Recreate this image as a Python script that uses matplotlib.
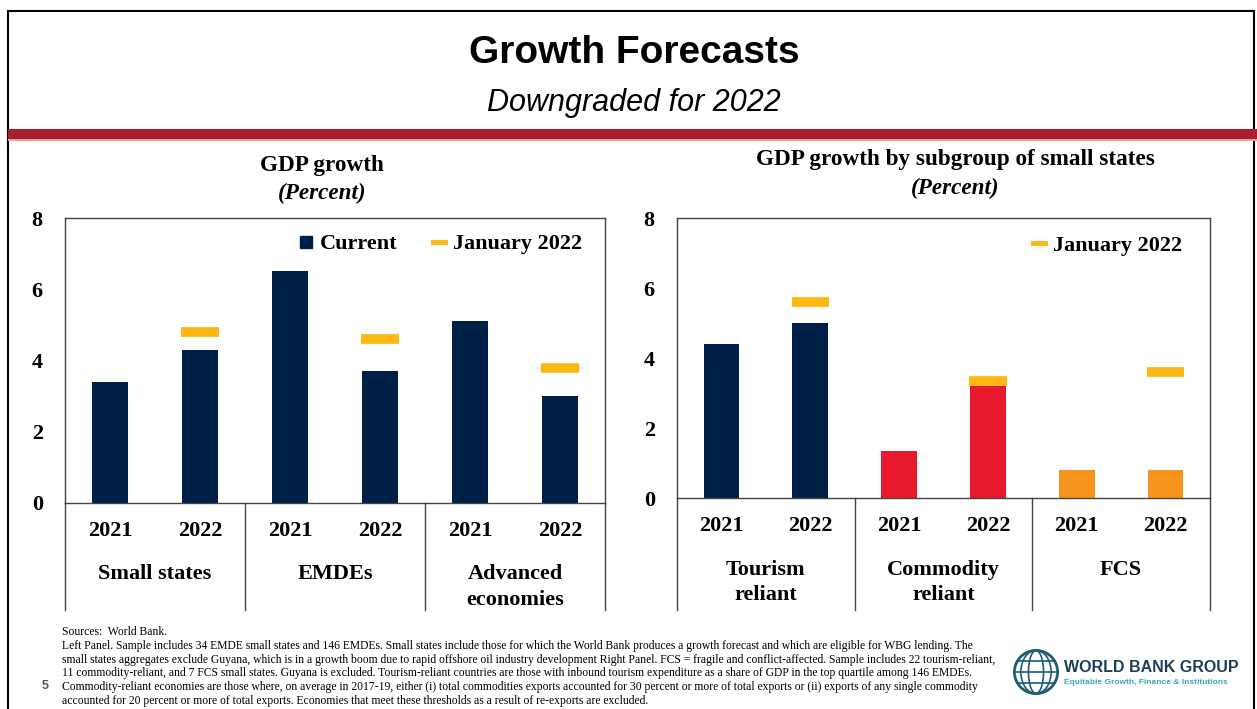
import matplotlib.pyplot as plt
from matplotlib.lines import Line2D
from matplotlib.patches import Rectangle, Circle, Ellipse
import numpy as np

# ---- data ----
left_cats = ['Small states', 'EMDEs', 'Advanced\neconomies']
left_current = [3.4, 4.3, 6.5, 3.7, 5.1, 3.0]
left_jan = [None, 4.8, None, 4.6, None, 3.8]

right_cats = ['Tourism\nreliant', 'Commodity\nreliant', 'FCS']
right_current = [4.4, 5.0, 1.35, 3.2, 0.8, 0.8]
right_jan = [None, 5.6, None, 3.35, None, 3.6]

years = ['2021', '2022'] * 3

navy = '#002147'
red = '#E8192C'
orange = '#F7941D'
yellow = '#FDB813'
right_colors = [navy, navy, red, red, orange, orange]

W, H = 1257, 709
fig = plt.figure(figsize=(W / 100, H / 100), dpi=100)
serif = 'Liberation Serif'
sans = 'Liberation Sans'


def px(x0, y0, x1, y1):
    return [x0 / W, 1 - y1 / H, (x1 - x0) / W, (y1 - y0) / H]


# slide frame and header
fig.add_artist(Rectangle((8 / W, -0.01), 1 - 11 / W, 1 - 4 / H, transform=fig.transFigure,
                         fill=False, edgecolor='black', lw=1.5))
fig.add_artist(Rectangle((8 / W, 1 - 139 / H), 1, 10 / H, transform=fig.transFigure,
                         color='#A91F2F', lw=0))
fig.add_artist(Rectangle((8 / W, 1 - 141 / H), 1, 2 / H, transform=fig.transFigure,
                         color='#E3A3AA', lw=0))
fig.text(634 / W, 1 - 53 / H, 'Growth Forecasts', ha='center', va='center',
         fontsize=28, fontweight='bold', family=sans)
fig.text(634 / W, 1 - 103 / H, 'Downgraded for 2022', ha='center', va='center',
         fontsize=22, style='italic', family=sans)


def panel(rect, title, title_x, title_y, cats, vals, jan, colors, legend_current,
          ext, cat_y, anchor):
    ax = fig.add_axes(rect)
    x = np.arange(6)
    ax.bar(x, vals, width=0.4, color=colors, zorder=2)
    for i, v in enumerate(jan):
        if v is not None:
            ax.plot([i - 0.21, i + 0.21], [v, v], color=yellow, lw=7,
                    solid_capstyle='butt', zorder=3)
    ax.set_xlim(-0.5, 5.5)
    ax.set_ylim(0, 8)
    ax.set_yticks([0, 2, 4, 6, 8])
    ax.set_xticks([])
    ax.tick_params(axis='y', length=0, pad=16)
    for lab in ax.get_yticklabels():
        lab.set_fontfamily(serif)
        lab.set_fontweight('bold')
        lab.set_fontsize(16)
    for s in ax.spines.values():
        s.set_linewidth(1)
        s.set_color('#444444')
    # extended frame below zero line
    for xx in [0, 1 / 3, 2 / 3, 1]:
        ax.plot([xx, xx], [0, -ext], transform=ax.transAxes, color='#444444',
                lw=1, clip_on=False)
    for i, yr in enumerate(years):
        ax.text((i + 0.5) / 6, -0.1, yr, transform=ax.transAxes,
                ha='center', va='center', family=serif, fontweight='bold', fontsize=16)
    for i, c in enumerate(cats):
        ax.text((2 * i + 1) / 6, cat_y, c, transform=ax.transAxes,
                ha='center', va='top', family=serif, fontweight='bold',
                fontsize=16, linespacing=1.38)
    fig.text(title_x / W, 1 - title_y / H, title, ha='center', va='center',
             family=serif, fontweight='bold', fontsize=16.7)
    fig.text(title_x / W, 1 - (title_y + 28) / H, '(Percent)', ha='center', va='center',
             family=serif, fontweight='bold', style='italic', fontsize=16.7)
    handles = []
    if legend_current:
        handles.append(Line2D([], [], marker='s', color=navy, ls='none', markersize=9,
                              label='Current'))
    handles.append(Line2D([], [], color=yellow, lw=3.5, label='January 2022'))
    ax.legend(handles=handles, loc='upper right', ncol=2, frameon=False,
              prop={'family': serif, 'weight': 'bold', 'size': 16},
              handlelength=0.55, handletextpad=0.35, columnspacing=1.6,
              bbox_to_anchor=anchor)
    return ax


panel(px(65, 218, 605, 503), 'GDP growth', 322, 165, left_cats, left_current, left_jan,
      [navy] * 6, True, 0.375, -0.215, (0.995, 1.015))
panel(px(677, 218, 1210, 498), 'GDP growth by subgroup of small states', 955, 160,
      right_cats, right_current, right_jan, right_colors, False, 0.4, -0.22, (0.985, 1.01))

# footnotes
note = ("Sources:  World Bank.\n"
        "Left Panel. Sample includes 34 EMDE small states and 146 EMDEs. Small states include those for which the World Bank produces a growth forecast and which are eligible for WBG lending. The\n"
        "small states aggregates exclude Guyana, which is in a growth boom due to rapid offshore oil industry development Right Panel. FCS = fragile and conflict-affected. Sample includes 22 tourism-reliant,\n"
        "11 commodity-reliant, and 7 FCS small states. Guyana is excluded. Tourism-reliant countries are those with inbound tourism expenditure as a share of GDP in the top quartile among 146 EMDEs.\n"
        "Commodity-reliant economies are those where, on average in 2017-19, either (i) total commodities exports accounted for 30 percent or more of total exports or (ii) exports of any single commodity\n"
        "accounted for 20 percent or more of total exports. Economies that meet these thresholds as a result of re-exports are excluded.")
fig.text(62 / W, 1 - 626 / H, note, ha='left', va='top', family=serif, fontsize=8.4,
         linespacing=1.2)
fig.text(45 / W, 1 - 686 / H, '5', ha='center', va='center', family=sans,
         fontweight='bold', fontsize=9, color='#555555')

# logo
lax = fig.add_axes(px(1012, 648, 1060, 696))
lax.set_xlim(-1, 1)
lax.set_ylim(-1, 1)
lax.set_aspect('equal')
lax.axis('off')
teal = '#1F5C73'
lax.add_patch(Circle((0, 0), 0.9, fill=False, ec=teal, lw=2))
for w in [0.35, 0.7]:
    lax.add_patch(Ellipse((0, 0), w * 2 * 0.9, 1.8, fill=False, ec=teal, lw=1.2))
for yy in [-0.45, 0, 0.45]:
    hw = np.sqrt(0.81 - yy ** 2)
    lax.plot([-hw, hw], [yy, yy], color=teal, lw=1.2)
fig.text(1064 / W, 1 - 667 / H, 'WORLD BANK GROUP', ha='left', va='center',
         family=sans, fontweight='bold', fontsize=11.5, color='#1D3F55')
fig.text(1064 / W, 1 - 683 / H, 'Equitable Growth, Finance & Institutions', ha='left',
         va='center', family=sans, fontweight='bold', fontsize=6, color='#3AA6B9')

fig.savefig('out.png', dpi=100)
